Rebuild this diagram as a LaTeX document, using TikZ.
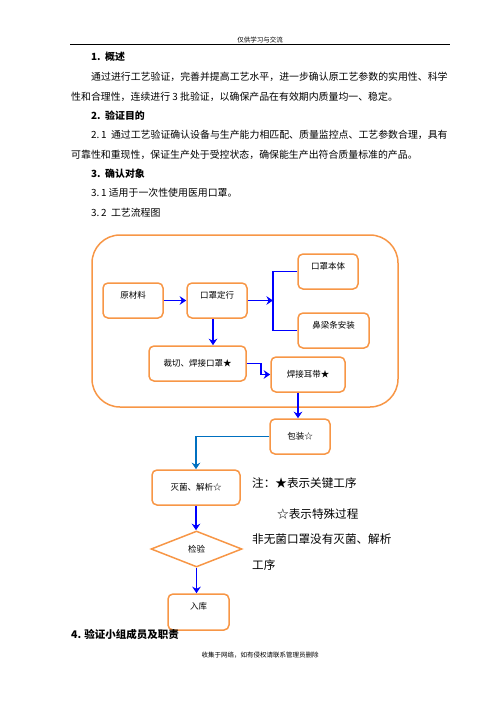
\documentclass[tikz,border=0pt]{standalone}
\usepackage{fontspec}
\setmainfont{Noto Sans CJK SC}
\newfontfamily\cjk{Noto Sans CJK SC}
\usetikzlibrary{arrows.meta,shapes.geometric}
\definecolor{boxorange}{HTML}{F79646}
\definecolor{arrblue}{HTML}{0000FF}
\definecolor{midblue}{HTML}{0070C0}
\tikzset{
  box/.style={draw=boxorange, line width=1.5pt, rounded corners=5pt, minimum height=35pt, inner sep=0pt, font=\cjk\fontsize{8.5}{10}\selectfont},
  uptext/.style={text height=15pt, text depth=20pt},
  bl/.style={draw=arrblue, line width=1.7pt},
  arr/.style={bl, -{Stealth[length=6.5pt,width=8.5pt,inset=2pt]}},
  arrm/.style={draw=midblue, line width=1.7pt, -{Stealth[length=6.5pt,width=8.5pt,inset=2pt]}},
  body/.style={anchor=west, inner sep=0pt, font=\cjk\fontsize{9.9}{12}\selectfont},
  head/.style={anchor=west, inner sep=0pt, font=\cjk\bfseries\fontsize{9.9}{12}\selectfont},
  note/.style={anchor=west, inner sep=0pt, font=\cjk\fontsize{11.6}{14}\selectfont},
}
\begin{document}
\begin{tikzpicture}[x=1pt,y=-1pt]
\useasboundingbox (0,0) rectangle (496,702);
% header
\node[inner sep=0pt, font=\cjk\fontsize{6.5}{8}\selectfont] (hdr) at (260,40) {仅供学习与交流};
\coordinate (hl) at (70,44.5);
\coordinate (hr) at (450,44.5);
\draw[line width=0.8pt] (hl) -- (hr);
% text
\node[head] (h1) at (91,57) {1.\ \ 概述};
\node[body] (p1) at (91,77) {通过进行工艺验证，完善并提高工艺水平，进一步确认原工艺参数的实用性、科学};
\node[body] (p2) at (71,97) {性和合理性，连续进行 3 批验证，以确保产品在有效期内质量均一、稳定。};
\node[head] (h2) at (91,116) {2.\ \ 验证目的};
\node[body] (p3) at (91,135) {2.\,1\ \ 通过工艺验证确认设备与生产能力相匹配、质量监控点、工艺参数合理，具有};
\node[body] (p4) at (71,155) {可靠性和重现性，保证生产处于受控状态，确保能生产出符合质量标准的产品。};
\node[head] (h3) at (91,174) {3.\ \ 确认对象};
\node[body] (p5) at (91,193) {3.\,1 适用于一次性使用医用口罩。};
\node[body] (p6) at (91,213) {3.\,2\ \ 工艺流程图};
% group
\node[draw=boxorange, line width=1.5pt, rounded corners=28pt, minimum width=306pt, minimum height=172pt, inner sep=0pt] (grp) at (245,321) {};
% boxes
\node[box, uptext, minimum width=60pt] (yl) at (133,300.5) {原材料};
\node[box, uptext, minimum width=60pt] (kz) at (217,300.5) {口罩定行};
\node[box, uptext, minimum width=60pt] (kt) at (328,271.5) {口罩本体};
\node[box, uptext, minimum width=71pt] (bl) at (333.5,330.5) {鼻梁条安装};
\node[box, minimum width=97pt] (cq) at (197.5,363.5) {裁切、焊接口罩★};
\node[box, minimum width=74pt] (he) at (308,374.5) {焊接耳带★};
\node[box, minimum width=60pt] (bz) at (300,436.5) {包装☆};
\node[box, minimum width=88pt] (mj) at (196,487.5) {灭菌、解析☆};
\node[draw=boxorange, line width=1.5pt, diamond, aspect=2.5, minimum width=91pt, minimum height=36pt, inner sep=0pt, font=\cjk\fontsize{8.5}{10}\selectfont] (jy) at (196.5,549) {检验};
\node[box, uptext, minimum width=61pt, minimum height=36pt] (rk) at (198.5,612) {入库};
% connectors
\coordinate (j1) at (273,300.5);
\draw[arr] (yl.east) -- (kz.west);
\draw[arr] (kz.east) -- (j1);
\draw[bl] (kt.west) -| (j1) |- (bl.west);
\draw[arr] ([xshift=-4pt]kz.south) -- ([xshift=-4pt]kz.south |- cq.north);
\draw[arr] (cq.east) -- ++(14,0) |- (he.west);
\draw[arr] ([xshift=-10pt]he.south) -- ([xshift=-10pt]he.south |- bz.north);
\draw[arrm] (bz.west) -| (mj.north);
\draw[arr] (mj.south) -- (mj.south |- jy.north);
\draw[arr] (jy.south) -- (jy.south |- rk.north);
% notes
\node[note] (n1) at (252,483) {注：★表示关键工序};
\node[note] (n2) at (277,514) {☆表示特殊过程};
\node[note] (n3) at (252,539) {非无菌口罩没有灭菌、解析};
\node[note] (n4) at (252,565) {工序};
% section 4
\node[anchor=west, inner sep=0pt, font=\cjk\bfseries\fontsize{10.5}{12}\selectfont] (h4) at (71,634) {4. 验证小组成员及职责};
% footer
\node[inner sep=0pt, font=\cjk\fontsize{6.5}{8}\selectfont] (ftr) at (260,655) {收集于网络，如有侵权请联系管理员删除};
\end{tikzpicture}
\end{document}
